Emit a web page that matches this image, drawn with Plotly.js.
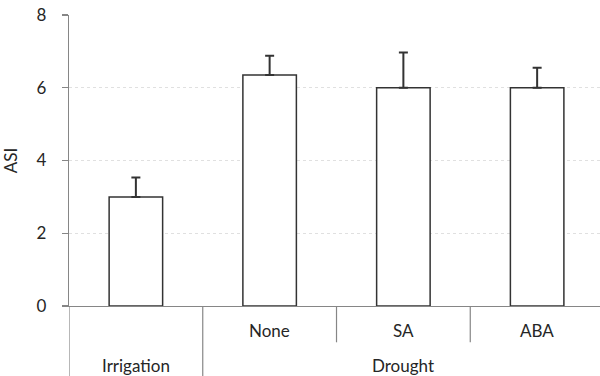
<!DOCTYPE html>
<html>
<head>
<meta charset="utf-8">
<script src="https://cdn.plot.ly/plotly-3.0.1.min.js"></script>
<style>html,body{margin:0;padding:0;background:#fff;}#chart{width:600px;height:376px;}</style>
</head>
<body>
<div id="chart"></div>
<script>
// Data
const categories = ["Irrigation", "None", "SA", "ABA"];
const subLabels = ["", "None", "SA", "ABA"];
const groupLabels = ["Irrigation", "Drought"];
const groupCenters = [0, 2];
const asiValues = [3.0, 6.35, 6.0, 6.0];
const asiErrors = [0.53, 0.53, 0.97, 0.55];
const yTicks = [0, 2, 4, 6, 8];

const FONT = "Lato, 'Open Sans', sans-serif";
const TXT = "#262626";
const AX = "#868686";

const xIdx = categories.map((c, i) => i);

const trace = {
  type: "bar",
  x: xIdx,
  y: asiValues,
  width: 0.4,
  marker: {color: "#ffffff", line: {color: "#333333", width: 1.5}},
  error_y: {
    type: "data", symmetric: false,
    array: asiErrors, arrayminus: asiErrors.map(() => 0),
    color: "#333333", thickness: 2, width: 4.5
  },
  hoverinfo: "skip"
};

const plotH = 376 - 15 - 70;
const toPaperY = px => (305.7 - px) / plotH; // helper for label offsets below axis (pixel rows)

const annotations = [];
subLabels.forEach((s, i) => {
  if (s) annotations.push({x: i, xref: "x", y: toPaperY(330.5), yref: "paper", text: s, showarrow: false,
    font: {family: FONT, size: 17, color: TXT}, xanchor: "center", yanchor: "middle"});
});
groupLabels.forEach((g, i) => {
  annotations.push({x: groupCenters[i], xref: "x", y: toPaperY(365.5), yref: "paper", text: g, showarrow: false,
    font: {family: FONT, size: 17, color: TXT}, xanchor: "center", yanchor: "middle"});
});

const shapes = [
  {type: "line", xref: "x", yref: "paper", x0: -0.5, x1: -0.5, y0: 0, y1: toPaperY(380), line: {color: AX, width: 1.2}},
  {type: "line", xref: "x", yref: "paper", x0: 0.5, x1: 0.5, y0: 0, y1: toPaperY(380), line: {color: AX, width: 1.2}},
  {type: "line", xref: "x", yref: "paper", x0: 1.5, x1: 1.5, y0: 0, y1: toPaperY(342), line: {color: AX, width: 1.2}},
  {type: "line", xref: "x", yref: "paper", x0: 2.5, x1: 2.5, y0: 0, y1: toPaperY(342), line: {color: AX, width: 1.2}}
];

const layout = {
  width: 600, height: 376,
  margin: {l: 69, r: 0, t: 15, b: 70, pad: 0},
  paper_bgcolor: "#ffffff", plot_bgcolor: "#ffffff",
  showlegend: false,
  font: {family: FONT, size: 17, color: TXT},
  xaxis: {
    range: [-0.5, 3.47], showticklabels: false, ticks: "",
    showgrid: false, zeroline: false, showline: true, linecolor: AX, linewidth: 1.2,
    fixedrange: true
  },
  yaxis: {
    range: [0, 8], tickvals: yTicks, ticktext: yTicks.map(String),
    ticks: "outside", ticklen: 6, tickcolor: AX, tickwidth: 1.2,
    showline: true, linecolor: AX, linewidth: 1.2,
    showgrid: true, gridcolor: "#e0e0e0", griddash: "dot", gridwidth: 1,
    zeroline: false, ticklabelstandoff: 12,
    tickfont: {family: FONT, size: 17, color: TXT},
    title: {text: "ASI", font: {family: FONT, size: 17, color: TXT}, standoff: 14},
    fixedrange: true
  },
  annotations: annotations,
  shapes: shapes
};

Plotly.newPlot("chart", [trace], layout, {staticPlot: true, displayModeBar: false});
</script>
</body>
</html>
